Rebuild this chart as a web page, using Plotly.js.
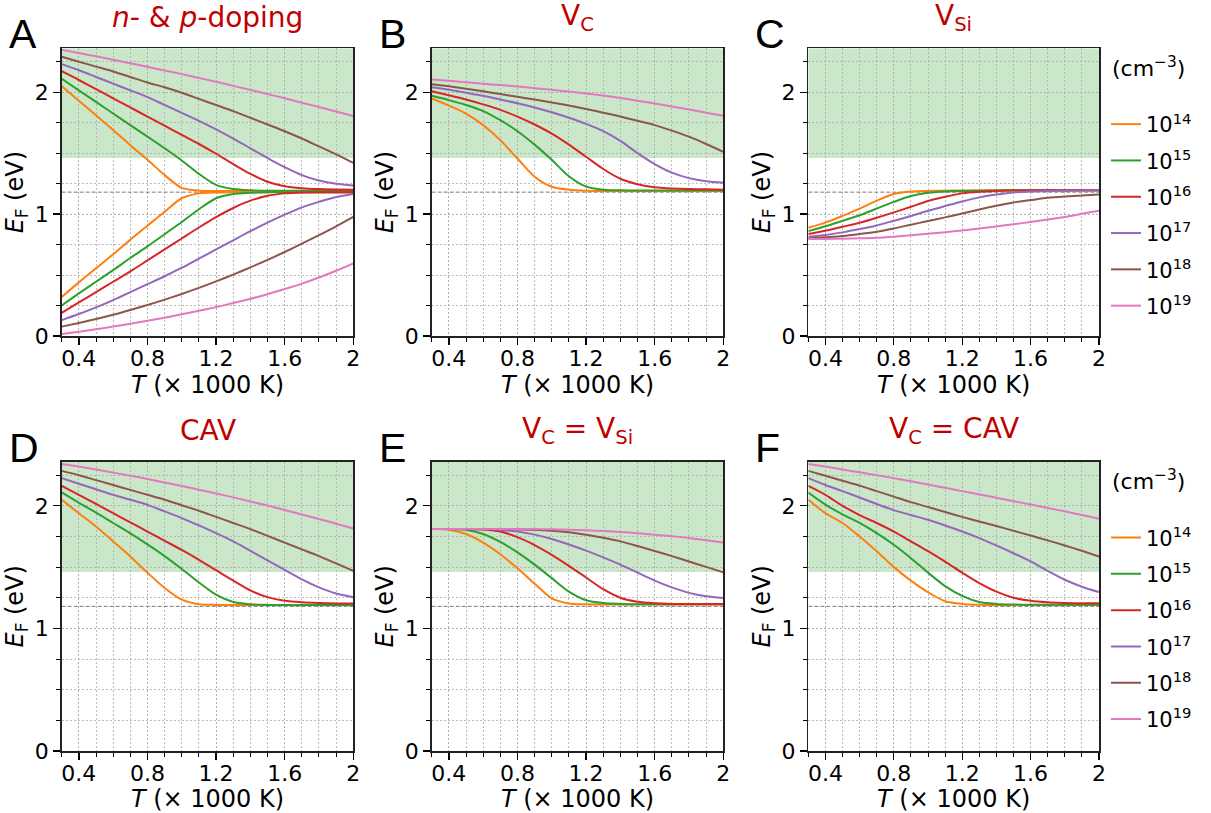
<!DOCTYPE html>
<html><head><meta charset="utf-8">
<script src="https://cdn.plot.ly/plotly-3.0.1.min.js"></script>
<style>html,body{margin:0;padding:0;background:#fff}#chart{width:1211px;height:813px}</style>
</head><body><div id="chart"></div>
<script>
// Temperature (x 1000 K)
const T = [0.3,0.4,0.5,0.6,0.7,0.8,0.9,1.0,1.1,1.2,1.3,1.4,1.5,1.6,1.7,1.8,1.9,2.0];
const concLabels = ['10<sup>14</sup>','10<sup>15</sup>','10<sup>16</sup>','10<sup>17</sup>','10<sup>18</sup>','10<sup>19</sup>'];
const concUnit = '(cm<sup>−3</sup>)';
const panelTitles = ['<i>n</i>- &amp; <i>p</i>-doping','V<sub>C</sub>','V<sub>Si</sub>','CAV','V<sub>C</sub> = V<sub>Si</sub>','V<sub>C</sub> = CAV'];
const panelLetters = ['A','B','C','D','E','F'];
const xTickVals = [0.4,0.8,1.2,1.6,2];
const xTickText = ['0.4','0.8','1.2','1.6','2'];
const yTickVals = [0,1,2];
const yTickText = ['0','1','2'];
const gapBand = [1.46, 2.36];
const midGap = 1.18;

// Panel A: n-doping (upper branch)
const A_n14 = [2.05,1.93,1.81,1.69,1.565,1.445,1.32,1.215,1.192,1.19,1.19,1.19,1.19,1.19,1.19,1.19,1.19,1.19];
const A_n15 = [2.11,2.015,1.92,1.825,1.73,1.635,1.54,1.44,1.33,1.24,1.205,1.195,1.192,1.192,1.192,1.192,1.192,1.192];
const A_n16 = [2.172,2.10,2.025,1.95,1.875,1.80,1.725,1.65,1.575,1.495,1.41,1.33,1.265,1.228,1.212,1.205,1.202,1.20];
const A_n17 = [2.23,2.18,2.125,2.07,2.015,1.96,1.895,1.83,1.765,1.695,1.62,1.54,1.46,1.385,1.32,1.275,1.248,1.235];
const A_n18 = [2.29,2.25,2.21,2.17,2.125,2.08,2.04,1.995,1.945,1.895,1.845,1.79,1.735,1.68,1.62,1.555,1.49,1.42];
const A_n19 = [2.347,2.321,2.294,2.266,2.237,2.208,2.178,2.148,2.117,2.085,2.052,2.019,1.985,1.95,1.914,1.878,1.841,1.804];
// Panel A: p-doping (lower branch)
const A_p14 = [0.32,0.44,0.555,0.67,0.79,0.905,1.02,1.13,1.17,1.178,1.18,1.18,1.18,1.18,1.18,1.18,1.18,1.18];
const A_p15 = [0.25,0.35,0.445,0.54,0.64,0.735,0.835,0.935,1.04,1.13,1.165,1.175,1.18,1.18,1.18,1.18,1.18,1.18];
const A_p16 = [0.19,0.275,0.36,0.445,0.53,0.62,0.71,0.80,0.89,0.975,1.05,1.11,1.15,1.17,1.178,1.18,1.18,1.18];
const A_p17 = [0.13,0.18,0.235,0.295,0.36,0.425,0.49,0.56,0.635,0.71,0.785,0.86,0.93,0.995,1.055,1.10,1.14,1.165];
const A_p18 = [0.077,0.107,0.139,0.174,0.213,0.254,0.298,0.345,0.395,0.448,0.504,0.563,0.624,0.689,0.757,0.827,0.90,0.977];
const A_p19 = [0.016,0.035,0.055,0.077,0.10,0.125,0.15,0.178,0.207,0.237,0.27,0.305,0.343,0.385,0.43,0.48,0.535,0.596];
// Panel B: V_C
const B_14 = [1.948,1.89,1.825,1.73,1.607,1.456,1.306,1.224,1.20,1.192,1.19,1.19,1.19,1.19,1.19,1.19,1.19,1.19];
const B_15 = [1.97,1.935,1.895,1.845,1.77,1.68,1.57,1.445,1.31,1.225,1.20,1.195,1.193,1.193,1.193,1.193,1.193,1.193];
const B_16 = [2.008,1.975,1.94,1.90,1.855,1.80,1.735,1.66,1.57,1.47,1.37,1.29,1.245,1.22,1.21,1.205,1.203,1.20];
const B_17 = [2.04,2.02,1.995,1.97,1.94,1.91,1.875,1.835,1.79,1.74,1.68,1.60,1.50,1.41,1.34,1.295,1.27,1.258];
const B_18 = [2.066,2.048,2.028,2.007,1.985,1.962,1.94,1.915,1.89,1.862,1.832,1.80,1.765,1.73,1.685,1.635,1.575,1.511];
const B_19 = [2.104,2.093,2.082,2.07,2.058,2.046,2.033,2.02,2.005,1.99,1.972,1.952,1.93,1.907,1.883,1.858,1.832,1.806];
// Panel C: V_Si
const C_14 = [0.888,0.93,0.985,1.045,1.11,1.165,1.185,1.19,1.192,1.193,1.194,1.195,1.195,1.195,1.195,1.195,1.195,1.195];
const C_15 = [0.86,0.90,0.945,0.99,1.046,1.10,1.148,1.175,1.186,1.19,1.192,1.194,1.195,1.195,1.195,1.195,1.195,1.195];
const C_16 = [0.836,0.863,0.896,0.929,0.97,1.014,1.06,1.107,1.142,1.17,1.183,1.19,1.193,1.195,1.195,1.195,1.195,1.195];
const C_17 = [0.814,0.828,0.85,0.877,0.907,0.945,0.984,1.027,1.066,1.104,1.137,1.16,1.178,1.186,1.19,1.192,1.194,1.195];
const C_18 = [0.80,0.81,0.82,0.836,0.855,0.882,0.913,0.943,0.973,1.005,1.038,1.068,1.096,1.115,1.134,1.145,1.153,1.16];
const C_19 = [0.795,0.796,0.798,0.801,0.806,0.815,0.826,0.838,0.851,0.866,0.882,0.899,0.917,0.935,0.955,0.977,1.002,1.027];
// Panel D: CAV
const D_14 = [2.049,1.94,1.832,1.71,1.587,1.455,1.33,1.235,1.198,1.192,1.19,1.19,1.19,1.19,1.19,1.19,1.19,1.19];
const D_15 = [2.109,2.025,1.945,1.86,1.775,1.685,1.59,1.485,1.375,1.275,1.215,1.197,1.192,1.19,1.19,1.19,1.19,1.19];
const D_16 = [2.163,2.09,2.015,1.94,1.865,1.79,1.715,1.64,1.56,1.475,1.39,1.31,1.255,1.225,1.213,1.207,1.204,1.203];
const D_17 = [2.226,2.18,2.135,2.09,2.05,2.008,1.955,1.90,1.84,1.777,1.71,1.633,1.555,1.478,1.40,1.335,1.285,1.255];
const D_18 = [2.285,2.25,2.21,2.17,2.13,2.09,2.05,2.005,1.96,1.91,1.86,1.81,1.755,1.70,1.645,1.59,1.53,1.47];
const D_19 = [2.342,2.32,2.296,2.271,2.246,2.219,2.191,2.162,2.132,2.101,2.069,2.036,2.002,1.966,1.93,1.893,1.854,1.815];
// Panel E: V_C = V_Si
const E_14 = [1.81,1.805,1.77,1.70,1.605,1.49,1.365,1.245,1.204,1.197,1.195,1.195,1.195,1.195,1.195,1.195,1.195,1.195];
const E_15 = [1.81,1.81,1.805,1.77,1.705,1.62,1.52,1.41,1.30,1.23,1.207,1.20,1.197,1.197,1.197,1.197,1.197,1.197];
const E_16 = [1.81,1.81,1.81,1.806,1.79,1.745,1.68,1.60,1.51,1.415,1.32,1.25,1.217,1.205,1.20,1.20,1.20,1.20];
const E_17 = [1.81,1.81,1.81,1.81,1.805,1.79,1.765,1.73,1.685,1.635,1.58,1.52,1.455,1.39,1.335,1.29,1.262,1.248];
const E_18 = [1.81,1.81,1.81,1.81,1.81,1.808,1.805,1.797,1.785,1.765,1.74,1.71,1.672,1.632,1.59,1.546,1.502,1.457];
const E_19 = [1.81,1.81,1.81,1.81,1.81,1.81,1.81,1.808,1.805,1.80,1.795,1.787,1.777,1.765,1.752,1.738,1.72,1.70];
// Panel F: V_C = CAV
const F_14 = [2.049,1.94,1.86,1.75,1.63,1.50,1.39,1.295,1.222,1.20,1.193,1.19,1.19,1.19,1.19,1.19,1.19,1.19];
const F_15 = [2.109,2.01,1.93,1.86,1.777,1.682,1.573,1.455,1.345,1.265,1.215,1.20,1.195,1.193,1.193,1.193,1.193,1.193];
const F_16 = [2.163,2.09,2.00,1.925,1.86,1.79,1.71,1.63,1.545,1.455,1.37,1.30,1.25,1.225,1.213,1.208,1.205,1.205];
const F_17 = [2.226,2.17,2.12,2.068,2.015,1.965,1.925,1.886,1.84,1.791,1.737,1.677,1.613,1.546,1.47,1.397,1.34,1.296];
const F_18 = [2.285,2.245,2.205,2.165,2.12,2.075,2.03,1.99,1.95,1.91,1.872,1.835,1.797,1.758,1.718,1.677,1.633,1.587];
const F_19 = [2.342,2.32,2.297,2.273,2.25,2.226,2.20,2.174,2.147,2.12,2.093,2.066,2.038,2.01,1.983,1.955,1.925,1.894];

const colors = ['#ff7f0e','#2ca02c','#d62728','#9467bd','#8c564b','#e377c2'];

const panelSeries = [
  [[A_n14,A_n15,A_n16,A_n17,A_n18,A_n19],[A_p14,A_p15,A_p16,A_p17,A_p18,A_p19]],
  [[B_14,B_15,B_16,B_17,B_18,B_19]],
  [[C_14,C_15,C_16,C_17,C_18,C_19]],
  [[D_14,D_15,D_16,D_17,D_18,D_19]],
  [[E_14,E_15,E_16,E_17,E_18,E_19]],
  [[F_14,F_15,F_16,F_17,F_18,F_19]]
];

// layout geometry (px)
const W = 1211, H = 813;
const colX = [[61.7,353.3],[431.7,723.3],[808.3,1099]];
const rowY = [[48.3,336],[461.7,751]];
const rowShift = 413.4;
const FONT = 'DejaVu Sans, sans-serif';
const gridStyle = {gridcolor:'#ababab', griddash:'2px,2px', gridwidth:0.8};

const traces = [];
const layout = {
  width: W, height: H, margin:{l:0,r:0,t:0,b:0},
  paper_bgcolor:'#fff', plot_bgcolor:'#fff',
  font:{family:FONT, size:20, color:'#000'},
  showlegend:true, shapes:[], annotations:[]
};

for (let p = 0; p < 6; p++) {
  const r = Math.floor(p/3), c = p % 3;
  const n = p + 1;
  const xa = 'x' + (n === 1 ? '' : n), ya = 'y' + (n === 1 ? '' : n);
  const xk = 'xaxis' + (n === 1 ? '' : n), yk = 'yaxis' + (n === 1 ? '' : n);
  const legendId = p === 2 ? 'legend' : (p === 5 ? 'legend2' : null);
  panelSeries[p].forEach((branch, bi) => {
    branch.forEach((ys, k) => {
      traces.push({
        type:'scatter', mode:'lines', x:T, y:ys, xaxis:xa, yaxis:ya,
        line:{color:colors[k], width:2, shape:'spline', smoothing:0.8},
        name: concLabels[k],
        legend: legendId || 'legend',
        legendgroup: (legendId || 'l') + k,
        showlegend: !!legendId && bi === 0,
        hoverinfo:'skip'
      });
    });
  });
  layout[xk] = {
    domain:[colX[c][0]/W, colX[c][1]/W], anchor:ya, range:[0.3,2],
    tickmode:'array', tickvals:xTickVals, ticktext:xTickText,
    ticks:'outside', ticklen:7, tickwidth:1.3, tickcolor:'#000',
    showline:true, linecolor:'#222', linewidth:1.5, mirror:true,
    showgrid:true, ...gridStyle, zeroline:false,
    minor:{tickmode:'linear', tick0:0.3, dtick:0.1, ticks:'outside', ticklen:4, tickwidth:1, tickcolor:'#000', showgrid:true, ...gridStyle},
    tickfont:{family:FONT, size:22, color:'#000'}, ticklabelstandoff:-5,
    title:{text:'<i>T</i> (× 1000 K)', font:{family:FONT, size:24, color:'#000'}, standoff:2},
    automargin:false, fixedrange:true
  };
  layout[yk] = {
    domain:[1 - rowY[r][1]/H, 1 - rowY[r][0]/H], anchor:xa, range:[0,2.36],
    tickmode:'array', tickvals:yTickVals, ticktext:yTickText,
    ticks:'outside', ticklen:7, tickwidth:1.3, tickcolor:'#000',
    showline:true, linecolor:'#222', linewidth:1.5, mirror:true,
    showgrid:true, ...gridStyle, zeroline:false,
    minor:{tickmode:'linear', tick0:0, dtick:0.25, ticks:'outside', ticklen:4, tickwidth:1, tickcolor:'#000', showgrid:true, ...gridStyle},
    tickfont:{family:FONT, size:22, color:'#000'},
    title:{text:'<i>E</i><sub>F</sub> (eV)', font:{family:FONT, size:24, color:'#000'}, standoff:4},
    automargin:false, fixedrange:true
  };
  layout.shapes.push({type:'rect', xref:xa, yref:ya, x0:0.3, x1:2, y0:gapBand[0], y1:gapBand[1],
    fillcolor:'rgba(44,160,44,0.25)', line:{width:0}, layer:'below'});
  layout.shapes.push({type:'line', xref:xa, yref:ya, x0:0.3, x1:2, y0:midGap, y1:midGap,
    line:{color:'#7a7a7a', width:1, dash:'4px,2px'}, layer:'between'});
  const cx = (colX[c][0] + colX[c][1]) / 2;
  layout.annotations.push({text:panelTitles[p], xref:'paper', yref:'paper', x:cx/W, y:1 - (rowY[r][0] - 31)/H,
    xanchor:'center', yanchor:'middle', showarrow:false, font:{family:FONT, size:28, color:'#c00000'}});
  layout.annotations.push({text:panelLetters[p], xref:'paper', yref:'paper', x:(colX[c][0] - 55)/W, y:1 - (rowY[r][0] - 14)/H,
    xanchor:'left', yanchor:'middle', showarrow:false, font:{family:'Liberation Sans, Arial, sans-serif', size:41, color:'#000'}});
}

// unit labels above the two legends
[0, 1].forEach(r => {
  layout.annotations.push({text:concUnit, xref:'paper', yref:'paper', x:1110/W, y:1 - (67 + r*rowShift)/H,
    xanchor:'left', yanchor:'middle', showarrow:false, font:{family:FONT, size:22, color:'#000'}});
});

const legendBase = {
  xanchor:'left', yanchor:'top', bgcolor:'rgba(0,0,0,0)', borderwidth:0,
  font:{family:FONT, size:21, color:'#000'},
  traceorder:'grouped', tracegroupgap:6, itemwidth:30
};
layout.legend = Object.assign({}, legendBase, {x:1106/W, y:1 - 104/H});
layout.legend2 = Object.assign({}, legendBase, {x:1106/W, y:1 - (104 + rowShift)/H});

Plotly.newPlot('chart', traces, layout, {staticPlot:true, displayModeBar:false});
</script>
</body></html>
